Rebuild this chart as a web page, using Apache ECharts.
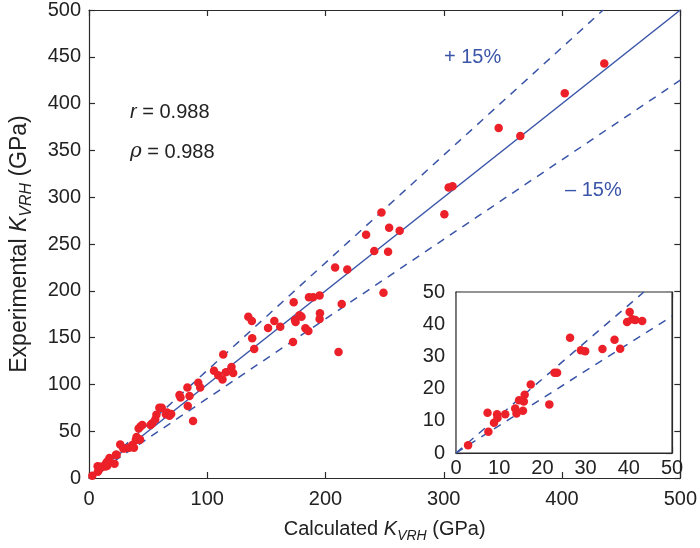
<!DOCTYPE html>
<html><head><meta charset="utf-8">
<script src="https://cdn.jsdelivr.net/npm/echarts@6/dist/echarts.min.js"></script>
<style>html,body{margin:0;padding:0;background:#fff}#c{width:700px;height:548px}</style>
</head><body><div id="c"></div>
<script>
// Low-range points (shown in main plot and inset): calculated, experimental
const lowCalc = [2.8,7.3,7.5,8.8,9.5,9.6,11.4,13.7,14.0,14.6,15.5,15.7,15.9,17.3,21.6,22.8,23.4,26.4,28.9,29.9,33.9,36.7,38.0,39.6,40.2,40.8,41.5,43.1];
const lowExp  = [2.4,12.5,6.6,9.4,12.0,10.9,12.0,13.8,12.3,16.4,13.1,16.0,18.1,21.3,15.1,24.9,24.9,35.8,31.9,31.6,32.3,35.2,32.4,40.7,43.8,41.5,41.3,41.0];
// Higher-range points (main plot only)
const highCalc = [42,43.5,45,52,53.5,56,57,59.5,61.5,65,66,68,69.5,76.5,77.4,83.2,85,83.5,88,92.4,94,105.7,109.3,112.9,113.5,115.7,120.5,121.9,138,139.7,134.7,137.7,151.4,156.7,161.7,173.1,172.5,174.2,174.7,179.7,178,183,185.5,186,189.5,195,195.3,195,208.1,211,213.7,218.4,234.3,241.2,247.3,249,252.9,253.8,262.7,300.5,304.1,307.4,346.4,364.7,402.3,435.7];
const highExp  = [53,55,56.5,56.5,58.5,62.5,67.5,75,75,68,70,66.5,68.5,88.7,86,96.7,87.6,77,61,101.7,96.7,114.7,109.8,105.2,132,113,118.6,112.3,149.4,137.7,172.3,167.7,160.3,167.7,161.7,187.8,145.4,168.8,166.7,172.3,174,160,157,193,193,195,176,170,224.9,134.5,186,222.8,259.9,242.6,283.6,198,241.8,267.3,264.1,281.8,310.4,311.8,374,365.5,411,442.8];
const upperSlope = 1.15, lowerSlope = 0.85;

const toPairs = (xs, ys) => xs.map((x, i) => [x, ys[i]]);
const mainPts = toPairs(lowCalc, lowExp).concat(toPairs(highCalc, highExp));
const insetPts = toPairs(lowCalc, lowExp);

const BLUE = '#3a55a8', RED = '#ec2028', AX = '#2b2b2b', TXT = '#222';
const FONT = 'Liberation Sans', FS = 20;
const lbl = (m) => ({color: TXT, fontSize: FS, fontFamily: FONT, margin: m});
const axisBase = (extra) => Object.assign({
  type: 'value', splitLine: {show: false},
  axisLine: {show: true, onZero: false, lineStyle: {color: AX, width: 1.2}},
  axisTick: {show: true, inside: true, length: 6, lineStyle: {color: AX, width: 1.2}},
  axisLabel: lbl(8)
}, extra);
const mkRich = (fs) => ({
  t: {fontSize: fs, fontFamily: FONT, color: TXT},
  i: {fontSize: fs, fontStyle: 'italic', fontFamily: FONT, color: TXT},
  s: {fontSize: Math.round(fs * 0.7), fontStyle: 'italic', fontFamily: FONT, color: TXT, padding: [Math.round(fs * 0.65), 0, 0, 0]}
});

const chart = echarts.init(document.getElementById('c'));
chart.setOption({
  animation: false,
  backgroundColor: '#fff',
  grid: [
    {left: 84, top: 10, width: 599, height: 472},
    {left: 456, top: 292, width: 216, height: 161, show: true, backgroundColor: '#fff', borderColor: AX, borderWidth: 1.2, z: 5}
  ],
  xAxis: [
    axisBase({gridIndex: 0, min: 0, max: 500, interval: 100, axisLabel: lbl(11),
      name: '{t|Calculated }{i|K}{s|VRH}{t| (GPa)}', nameLocation: 'middle', nameGap: 38, nameTextStyle: {rich: mkRich(20)}}),
    axisBase({gridIndex: 0, min: 0, max: 500, interval: 100, position: 'top', axisLabel: {show: false}}),
    axisBase({gridIndex: 1, min: 0, max: 50, interval: 10, axisLabel: lbl(5)}),
    axisBase({gridIndex: 1, min: 0, max: 50, interval: 10, position: 'top', axisLabel: {show: false}})
  ],
  yAxis: [
    axisBase({gridIndex: 0, min: 0, max: 500, interval: 50, axisLabel: lbl(8),
      name: '{t|Experimental }{i|K}{s|VRH}{t| (GPa)}', nameLocation: 'middle', nameGap: 54, nameTextStyle: {rich: mkRich(23)}}),
    axisBase({gridIndex: 0, min: 0, max: 500, interval: 50, position: 'right', axisLabel: {show: false}}),
    axisBase({gridIndex: 1, min: 0, max: 50, interval: 10, axisLabel: lbl(11)}),
    axisBase({gridIndex: 1, min: 0, max: 50, interval: 10, position: 'right', axisLabel: {show: false}})
  ],
  series: [
    {type: 'line', xAxisIndex: 0, yAxisIndex: 0, data: [[0,0],[500,500]], symbol: 'none', lineStyle: {color: BLUE, width: 1.5}, z: 2},
    {type: 'line', xAxisIndex: 0, yAxisIndex: 0, data: [[0,0],[500/upperSlope,500]], symbol: 'none', lineStyle: {color: BLUE, width: 1.5, type: [8,7]}, z: 2},
    {type: 'line', xAxisIndex: 0, yAxisIndex: 0, data: [[0,0],[500,500*lowerSlope]], symbol: 'none', lineStyle: {color: BLUE, width: 1.5, type: [8,7]}, z: 2},
    {type: 'scatter', xAxisIndex: 0, yAxisIndex: 0, data: mainPts, symbolSize: 8.5, itemStyle: {color: RED, opacity: 1}, z: 3},
    {type: 'line', xAxisIndex: 2, yAxisIndex: 2, data: [[0,0],[50/upperSlope,50]], symbol: 'none', lineStyle: {color: BLUE, width: 1.5, type: [8,7]}, z: 6},
    {type: 'line', xAxisIndex: 2, yAxisIndex: 2, data: [[0,0],[50,50*lowerSlope]], symbol: 'none', lineStyle: {color: BLUE, width: 1.5, type: [8,7]}, z: 6},
    {type: 'scatter', xAxisIndex: 2, yAxisIndex: 2, data: insetPts, symbolSize: 8.5, itemStyle: {color: RED, opacity: 1}, z: 7}
  ],
  graphic: [
    {type: 'text', left: 130, top: 102, style: {text: '{i|r} = 0.988', fontSize: FS, fontFamily: FONT, fill: TXT, rich: {i: {fontStyle: 'italic', fontSize: FS, fontFamily: FONT}}}},
    {type: 'text', left: 130, top: 142, style: {text: '{i|ρ} = 0.988', fontSize: FS, fontFamily: FONT, fill: TXT, rich: {i: {fontStyle: 'italic', fontSize: FS, fontFamily: 'DejaVu Serif'}}}},
    {type: 'text', left: 444, top: 47, style: {text: '+ 15%', fontSize: FS, fontFamily: FONT, fill: BLUE}},
    {type: 'text', left: 565, top: 180, style: {text: '\u2013 15%', fontSize: FS, fontFamily: FONT, fill: BLUE}}
  ]
});
</script></body></html>
